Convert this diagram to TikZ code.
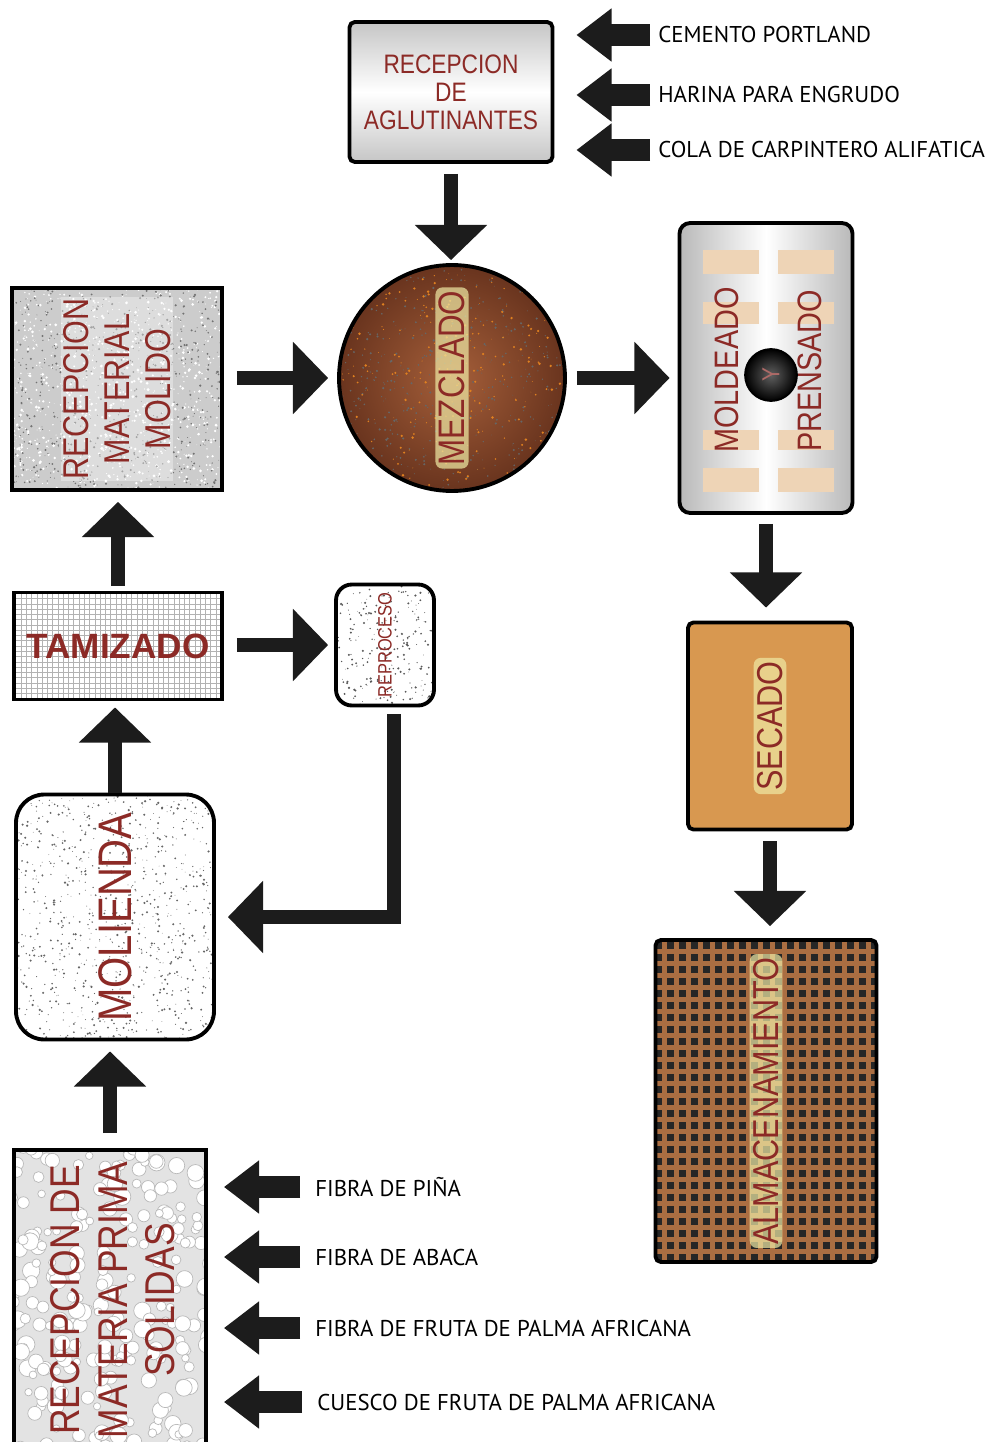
\documentclass[tikz,border=0pt]{standalone}
\usepackage{fontspec}
\setmainfont{Liberation Sans}
\newfontfamily\boxfont[FakeStretch=0.85]{Liberation Sans}
\newfontfamily\labelfont{PT Sans}
\usetikzlibrary{arrows.meta, patterns, positioning}

\definecolor{boxred}{RGB}{140,42,38}
\definecolor{wood}{RGB}{105,52,30}
\definecolor{woodlight}{RGB}{165,95,58}
\definecolor{dryorange}{RGB}{216,152,80}
\definecolor{storebrown}{RGB}{170,110,66}
\definecolor{moldtan}{RGB}{238,212,182}
\definecolor{glow}{RGB}{240,234,165}
\definecolor{arrowgray}{RGB}{28,28,28}

% random dots inside a path picture: count, colour, width, height, max radius
\newcommand{\speckle}[5]{%
  \begin{scope}[shift={(path picture bounding box.center)}]
    \foreach \k in {1,...,#1}
      \fill[#2] ({(rnd-0.5)*#3},{(rnd-0.5)*#4}) circle ({0.2pt+#5*rnd});
  \end{scope}}

\tikzset{
  stage/.style={draw=black, line width=2.2pt, inner sep=0pt},
  txt/.style={font=\boxfont, text=boxred, align=center, inner sep=1pt},
  glowtxt/.style={txt, fill=glow, fill opacity=0.7, text opacity=1, rounded corners=4pt, inner sep=2pt},
  flow/.style={draw=arrowgray, line width=8pt, -{Triangle[width=40pt,length=20pt]}},
  feed/.style={draw=arrowgray, line width=13pt, -{Triangle[width=29pt,length=20pt]}},
  inlabel/.style={font=\labelfont\fontsize{13}{15}\selectfont, anchor=west, inner sep=0pt},
}

\begin{document}
\begin{tikzpicture}[x=0.02cm, y=-0.02cm]
  \useasboundingbox (0,0) rectangle (992,1442);
  \clip (0,0) rectangle (992,1442);
  \pgfmathsetseed{11}

  % binder reception
  \node[stage, minimum width=4.06cm, minimum height=2.8cm, rounded corners=3pt,
    top color=gray!45, bottom color=gray!45, middle color=white] (agl) at (451,92) {};
  \node[txt, font=\boxfont\fontsize{15.2}{16}\selectfont] (agl-t) at (agl) {RECEPCION\\DE\\AGLUTINANTES};

  % binders coming in
  \node[inlabel] (cem) at (658,35) {CEMENTO PORTLAND};
  \node[inlabel] (har) at (658,95) {HARINA PARA ENGRUDO};
  \node[inlabel] (cola) at (658,150) {COLA DE CARPINTERO ALIFATICA};
  \foreach \n in {cem,har,cola}
    \draw[feed, shorten <=0.16cm, shorten >=0.44cm] (\n.west) -- (\n.west -| agl.east);

  % mixing
  \node[stage, circle, minimum size=4.52cm, inner color=woodlight, outer color=wood,
    path picture={\speckle{500}{black!60}{230}{230}{0.5pt}\speckle{300}{orange!50!brown}{230}{230}{0.6pt}}] (mez) at (452,378) {};
  \node[glowtxt, rotate=90, font=\boxfont\fontsize{21}{22}\selectfont] (mez-t) at (mez) {MEZCLADO};

  % ground material reception
  \node[stage, minimum width=4.2cm, minimum height=4.04cm, fill=gray!40,
    path picture={\speckle{900}{white}{215}{210}{0.7pt}\speckle{700}{black!55}{215}{210}{0.5pt}}] (molido) at (117,389) {};
  \node[txt, rotate=90, fill=white, fill opacity=0.35, text opacity=1,
    font=\boxfont\fontsize{20.4}{23.5}\selectfont] (molido-t) at (molido) {RECEPCION\\MATERIAL\\MOLIDO};

  % moulding and pressing
  \node[stage, minimum width=3.46cm, minimum height=5.8cm, rounded corners=6pt,
    left color=gray!55, right color=gray!55, middle color=white,
    path picture={
      \begin{scope}[shift={(path picture bounding box.center)}, sharp corners]
        \foreach \yy/\hh in {-118/24, -66/22, 62/20, 100/24}
          \foreach \xx in {-63,12}
            \fill[moldtan] (\xx,\yy) rectangle ++(56,\hh);
      \end{scope}}] (mold) at (766,368) {};
  \node[txt, rotate=90, font=\boxfont\fontsize{19.3}{20}\selectfont] (mold-t1) at (727,370) {MOLDEADO};
  \node[txt, rotate=90, font=\boxfont\fontsize{19.3}{20}\selectfont] (mold-t2) at (810,371) {PRENSADO};
  \node[circle, draw=black, line width=1pt, inner color=gray!75!black, outer color=black,
    minimum size=1.04cm, text=boxred!70!white, rotate=90, font=\boxfont\fontsize{14}{15}\selectfont] (yy) at (771,375) {Y};

  % drying
  \node[stage, minimum width=3.28cm, minimum height=4.14cm, rounded corners=3pt, fill=dryorange] (sec) at (770,726) {};
  \node[glowtxt, rotate=90, font=\boxfont\fontsize{20.5}{22}\selectfont] (sec-t) at (sec) {SECADO};

  % storage
  \node[stage, minimum width=4.42cm, minimum height=6.44cm, rounded corners=3pt, fill=storebrown,
    path picture={
      \begin{scope}[shift={(path picture bounding box.center)}, sharp corners]
        \foreach \i in {-9,...,9}
          \foreach \j in {-13,...,13}
            \fill[black!85] ({\i*12-3.5},{\j*12-3.5}) rectangle ++(7,7);
      \end{scope}}] (alm) at (766,1101) {};
  \node[glowtxt, rotate=90, font=\boxfont\fontsize{20.5}{22}\selectfont] (alm-t) at (alm) {ALMACENAMIENTO};

  % sieving
  \node[stage, minimum width=4.16cm, minimum height=2.14cm, preaction={fill=white},
    pattern=grid, pattern color=gray!60] (tam) at (118,646) {};
  \node[txt, font=\fontsize{20}{22}\selectfont\bfseries] (tam-t) at (tam) {TAMIZADO};

  % reprocessing
  \node[stage, minimum width=1.96cm, minimum height=2.42cm, rounded corners=9pt, fill=white,
    path picture={\speckle{250}{black!65}{100}{125}{0.5pt}}] (rep) at (385,645) {};
  \node[txt, rotate=90, font=\boxfont\fontsize{11}{12}\selectfont] (rep-t) at (rep) {REPROCESO};

  % milling
  \node[stage, minimum width=3.96cm, minimum height=4.9cm, rounded corners=16pt, fill=white,
    path picture={\speckle{900}{black!60}{200}{250}{0.5pt}}] (mol) at (115,917) {};
  \node[txt, rotate=90, font=\boxfont\fontsize{26.8}{28}\selectfont] (mol-t) at (mol) {MOLIENDA};

  % solid raw material reception
  \node[stage, minimum width=3.84cm, minimum height=6cm, fill=gray!22,
    path picture={
      \begin{scope}[shift={(path picture bounding box.center)}]
        \foreach \k in {1,...,220}
          \filldraw[fill=white, draw=gray!55, line width=0.4pt] ({(rnd-0.5)*200},{(rnd-0.5)*310}) circle ({2pt+3pt*rnd});
      \end{scope}}] (mp) at (110,1300) {};
  \node[txt, rotate=90, font=\boxfont\fontsize{23.7}{27}\selectfont] (mp-t) at (113,1300) {RECEPCION DE\\MATERIA PRIMA\\SOLIDAS};

  % raw fibres coming in
  \node[inlabel] (pina) at (315,1187) {FIBRA DE PIÑA};
  \node[inlabel] (abaca) at (315,1257) {FIBRA DE ABACA};
  \node[inlabel] (palma) at (315,1328) {FIBRA DE FRUTA DE PALMA AFRICANA};
  \node[inlabel] (cuesco) at (317,1402) {CUESCO DE FRUTA DE PALMA AFRICANA};
  \foreach \n in {pina,abaca,palma,cuesco}
    \draw[feed, shorten <=0.3cm, shorten >=0.32cm] (\n.west) -- (\n.west -| mp.east);

  % process flow
  \draw[flow, shorten <=0.2cm, shorten >=0.06cm] (agl.south) -- (agl.south |- mez.north);
  \draw[flow, shorten <=0.26cm, shorten >=0.18cm] (molido.east |- mez.west) -- (mez.west);
  \draw[flow, shorten <=0.2cm, shorten >=0.16cm] (mez.east) -- (mez.east -| mold.west);
  \draw[flow, shorten <=0.18cm, shorten >=0.26cm] (mold.south) -- (mold.south |- sec.north);
  \draw[flow, shorten <=0.2cm, shorten >=0.24cm] (sec.south) -- (sec.south |- alm.north);
  \draw[flow, shorten <=0.1cm, shorten >=0.2cm] (tam.north) -- (tam.north |- molido.south);
  \draw[flow, shorten <=0.26cm, shorten >=0.12cm] (tam.east |- rep.west) -- (rep.west);
  \draw[flow, shorten <=0.14cm, shorten >=0.24cm] ([xshift=0.18cm]rep.south) |- (mol.east);
  \draw[flow, shorten >=0.12cm] (mol.north) -- (mol.north |- tam.south);
  \draw[flow, shorten <=0.3cm, shorten >=0.2cm] (mp.north) -- (mp.north |- mol.south);
\end{tikzpicture}
\end{document}
